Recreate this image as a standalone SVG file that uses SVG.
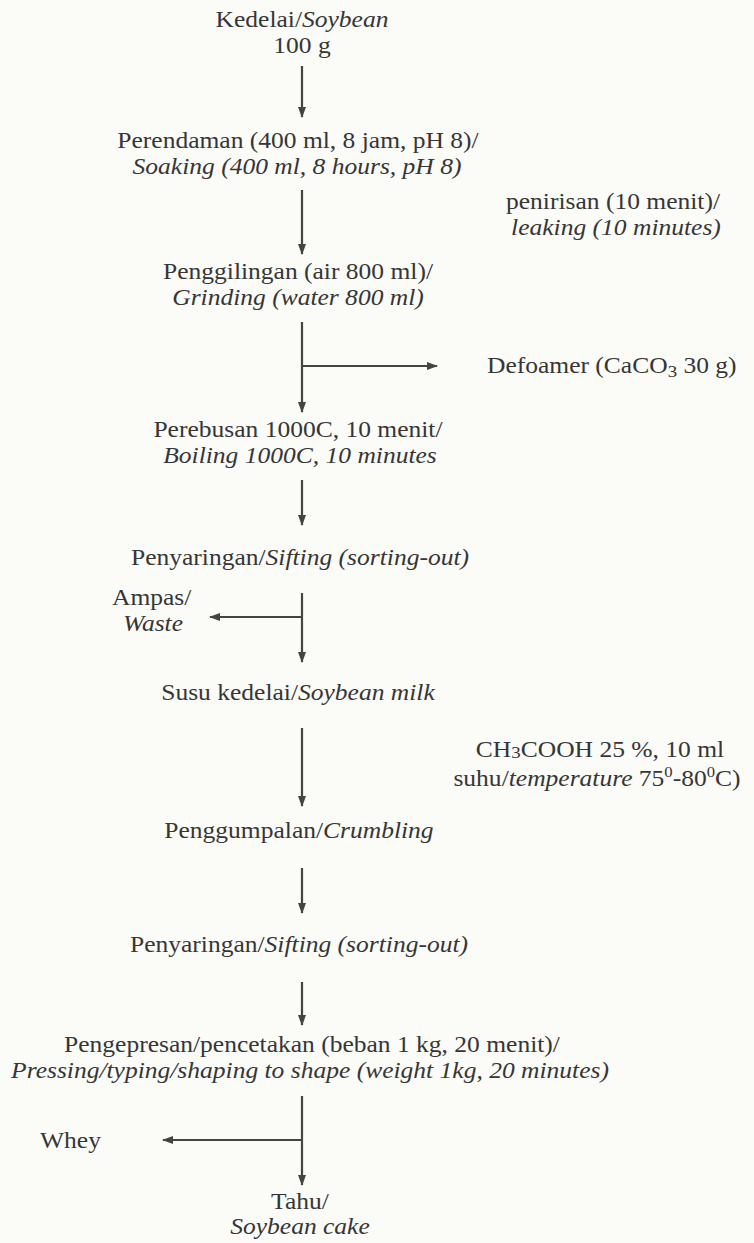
<svg xmlns="http://www.w3.org/2000/svg" width="754" height="1243" viewBox="0 0 754 1243">
<style>
text{font-family:"Liberation Serif","Times New Roman",serif;font-size:23px;fill:#363636}
.c{text-anchor:middle}
.i{font-style:italic}
.ln{stroke:#444;stroke-width:2.2;fill:none}
</style>
<defs>
<marker id="ah" markerUnits="userSpaceOnUse" markerWidth="11" markerHeight="8" refX="10" refY="4" orient="auto">
<path d="M0,0 L11,4 L0,8 z" fill="#444"/>
</marker>
</defs>
<rect width="754" height="1243" fill="#fbfbf8"/>
<g id="connectors">
<line class="ln" x1="302" y1="66" x2="302" y2="117" marker-end="url(#ah)"/>
<line class="ln" x1="302" y1="190" x2="302" y2="254" marker-end="url(#ah)"/>
<line class="ln" x1="302" y1="322" x2="302" y2="412" marker-end="url(#ah)"/>
<line class="ln" x1="302" y1="366" x2="437" y2="366" marker-end="url(#ah)"/>
<line class="ln" x1="302" y1="480" x2="302" y2="525" marker-end="url(#ah)"/>
<line class="ln" x1="302" y1="593" x2="302" y2="662" marker-end="url(#ah)"/>
<line class="ln" x1="302" y1="617" x2="210" y2="617" marker-end="url(#ah)"/>
<line class="ln" x1="302" y1="728" x2="302" y2="806" marker-end="url(#ah)"/>
<line class="ln" x1="302" y1="868" x2="302" y2="913" marker-end="url(#ah)"/>
<line class="ln" x1="302" y1="982" x2="302" y2="1025" marker-end="url(#ah)"/>
<line class="ln" x1="302" y1="1096" x2="302" y2="1185" marker-end="url(#ah)"/>
<line class="ln" x1="302" y1="1140" x2="163" y2="1140" marker-end="url(#ah)"/>
</g>
<g id="labels" transform="scale(1.11 1)">
<g id="n-kedelai"><text class="c" x="272.07" y="27">Kedelai/<tspan class="i">Soybean</tspan></text><text class="c" x="272.07" y="53">100 g</text></g>
<g id="n-perendaman"><text class="c" x="268.47" y="148">Perendaman (400 ml, 8 jam, pH 8)/</text><text class="c i" x="267.57" y="174">Soaking (400 ml, 8 hours, pH 8)</text></g>
<g id="n-penirisan"><text class="c" x="552.25" y="209">penirisan (10 menit)/</text><text class="c i" x="554.95" y="235">leaking (10 minutes)</text></g>
<g id="n-penggilingan"><text class="c" x="268.47" y="279">Penggilingan (air 800 ml)/</text><text class="c i" x="268.47" y="305">Grinding (water 800 ml)</text></g>
<g id="n-defoamer"><text x="438.74" y="373">Defoamer (CaCO<tspan font-size="17" dy="4">3</tspan><tspan dy="-4"> 30 g)</tspan></text></g>
<g id="n-perebusan"><text class="c" x="268.47" y="437">Perebusan 1000C, 10 menit/</text><text class="c i" x="270.27" y="463">Boiling 1000C, 10 minutes</text></g>
<g id="n-penyaringan1"><text class="c" x="270.27" y="565">Penyaringan/<tspan class="i">Sifting (sorting-out)</tspan></text></g>
<g id="n-ampas"><text x="100.9" y="605">Ampas/</text><text class="i" x="110.81" y="631">Waste</text></g>
<g id="n-susu"><text class="c" x="268.47" y="700">Susu kedelai/<tspan class="i">Soybean milk</tspan></text></g>
<g id="n-ch3cooh"><text class="c" x="540.54" y="757">CH<tspan font-size="17" dy="1">3</tspan><tspan dy="-1">COOH 25 %, 10 ml</tspan></text><text class="c" x="537.84" y="786">suhu/<tspan class="i">temperature</tspan> 75<tspan font-size="15" dy="-9">0</tspan><tspan dy="9">-80</tspan><tspan font-size="15" dy="-9">0</tspan><tspan dy="9">C)</tspan></text></g>
<g id="n-penggumpalan"><text class="c" x="269.37" y="838">Penggumpalan/<tspan class="i">Crumbling</tspan></text></g>
<g id="n-penyaringan2"><text class="c" x="269.37" y="952">Penyaringan/<tspan class="i">Sifting (sorting-out)</tspan></text></g>
<g id="n-pengepresan"><text class="c" x="281.08" y="1052">Pengepresan/pencetakan (beban 1 kg, 20 menit)/</text><text class="c i" x="279.28" y="1078">Pressing/typing/shaping to shape (weight 1kg, 20 minutes)</text></g>
<g id="n-whey"><text x="36.04" y="1148">Whey</text></g>
<g id="n-tahu"><text class="c" x="270.27" y="1209">Tahu/</text><text class="c i" x="270.27" y="1234">Soybean cake</text></g>
</g>
</svg>
